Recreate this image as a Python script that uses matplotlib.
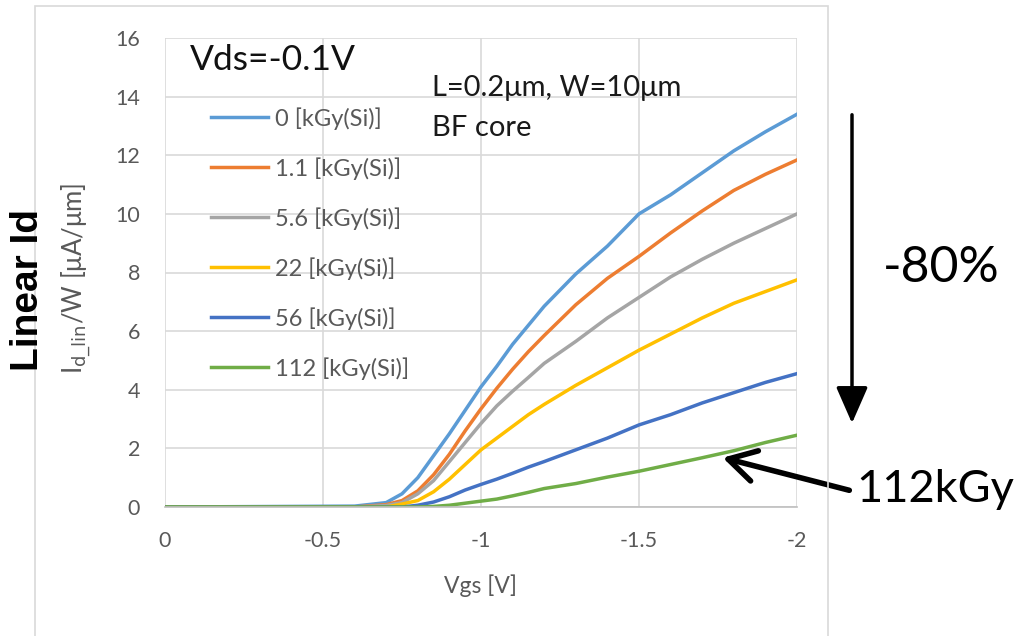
import matplotlib
matplotlib.use("Agg")
import matplotlib.pyplot as plt
from matplotlib.patches import Rectangle, FancyArrowPatch

plt.rcParams['font.family'] = ['Lato', 'DejaVu Sans']

vgs = [0, -0.6, -0.7, -0.75, -0.8, -0.85, -0.9, -0.95, -1.0, -1.05, -1.1,
       -1.15, -1.2, -1.3, -1.4, -1.5, -1.6, -1.7, -1.8, -1.9, -2.0]
id_0 = [0, 0.03, 0.15, 0.45, 1.0, 1.75, 2.5, 3.3, 4.1, 4.8, 5.55,
        6.2, 6.85, 7.95, 8.9, 10.0, 10.65, 11.4, 12.15, 12.8, 13.4]
id_1p1 = [0, 0, 0.08, 0.22, 0.55, 1.1, 1.8, 2.6, 3.35, 4.05, 4.7,
          5.3, 5.85, 6.9, 7.8, 8.55, 9.35, 10.1, 10.8, 11.35, 11.84]
id_5p6 = [0, 0, 0.05, 0.15, 0.45, 0.9, 1.55, 2.2, 2.85, 3.45, 3.95,
          4.42, 4.9, 5.65, 6.45, 7.15, 7.85, 8.45, 9.0, 9.5, 10.0]
id_22 = [0, 0, 0, 0.1, 0.22, 0.52, 0.95, 1.45, 1.95, 2.35, 2.75,
         3.15, 3.5, 4.15, 4.75, 5.35, 5.9, 6.45, 6.95, 7.35, 7.75]
id_56 = [0, 0, 0, 0, 0.06, 0.17, 0.35, 0.58, 0.77, 0.95, 1.15,
         1.36, 1.55, 1.95, 2.35, 2.8, 3.15, 3.55, 3.9, 4.25, 4.55]
id_112 = [0, 0, 0, 0, 0, 0.02, 0.06, 0.13, 0.2, 0.27, 0.38,
          0.5, 0.63, 0.8, 1.02, 1.22, 1.45, 1.68, 1.92, 2.2, 2.45]

series = [id_0, id_1p1, id_5p6, id_22, id_56, id_112]
labels = ["0 [kGy(Si)]", "1.1 [kGy(Si)]", "5.6 [kGy(Si)]", "22 [kGy(Si)]",
          "56 [kGy(Si)]", "112 [kGy(Si)]"]
colors = ["#5B9BD5", "#ED7D31", "#A5A5A5", "#FFC000", "#4472C4", "#70AD47"]

xticks = [0, -0.5, -1, -1.5, -2]
xticklabels = ["0", "-0.5", "-1", "-1.5", "-2"]
yticks = [0, 2, 4, 6, 8, 10, 12, 14, 16]

W, H = 1019, 636
fig = plt.figure(figsize=(W / 100, H / 100), dpi=100)


def fx(px):
    return px / W


def fy(py):
    return 1 - py / H


# outer chart frame
fig.patches.append(Rectangle((fx(35), fy(640)), fx(828) - fx(35), fy(6) - fy(640),
                             transform=fig.transFigure, fill=False,
                             edgecolor="#d9d9d9", lw=1.2))

ax = fig.add_axes([fx(165), fy(507), fx(797) - fx(165), fy(38) - fy(507)])
for y, c, lab in zip(series, colors, labels):
    ax.plot(vgs, y, color=c, lw=2.5, label=lab)

ax.set_xlim(0, -2)
ax.set_ylim(0, 16)
ax.set_xticks(xticks)
ax.set_xticklabels(xticklabels)
ax.set_yticks(yticks)
ax.grid(True, color="#d9d9d9", lw=1.2)
ax.set_axisbelow(True)
for s in ["top", "right", "left"]:
    ax.spines[s].set_visible(False)
ax.spines["bottom"].set_color("#bfbfbf")
ax.spines["bottom"].set_linewidth(1.2)
ax.tick_params(length=0, labelsize=15.5, labelcolor="#595959")
ax.tick_params(axis="x", pad=17)
ax.tick_params(axis="y", pad=18)

ax.set_xlabel("Vgs [V]", fontsize=16.5, color="#595959", labelpad=17)
fig.text(fx(76), fy(278), r"I$_{\mathrm{d\_lin}}$/W [μA/μm]", rotation=90,
         fontsize=18.5, color="#595959", ha="center", va="center")
fig.text(fx(28), fy(290), "Linear Id", rotation=90, fontsize=28,
         fontweight="bold", family="Liberation Sans", ha="center", va="center")

leg = ax.legend(loc="upper left", bbox_to_anchor=(fx(211), fy(107)),
                bbox_transform=fig.transFigure, frameon=False, fontsize=17,
                handlelength=2.4, handletextpad=0.3, labelspacing=1.16,
                borderpad=0, borderaxespad=0)
for t in leg.get_texts():
    t.set_color("#595959")

fig.text(fx(190), fy(60), "Vds=-0.1V", fontsize=25.5, color="#111111",
         ha="left", va="center")
fig.text(fx(432), fy(88), "L=0.2μm, W=10μm", fontsize=21, color="#1a1a1a",
         ha="left", va="center")
fig.text(fx(432), fy(128), "BF core", fontsize=21, color="#1a1a1a",
         ha="left", va="center")
fig.text(fx(883), fy(268), "-80%", fontsize=36, color="black",
         ha="left", va="center")
fig.text(fx(856), fy(490), "112kGy", fontsize=32.5, color="black",
         ha="left", va="center")

fig.add_artist(FancyArrowPatch(
    (fx(852), fy(112)), (fx(852), fy(426)), transform=fig.transFigure,
    arrowstyle="-|>,head_length=0.8,head_width=0.35", mutation_scale=28,
    lw=2.5, color="black"))
fig.add_artist(FancyArrowPatch(
    (fx(852), fy(491)), (fx(720), fy(457)), transform=fig.transFigure,
    arrowstyle="->,head_length=0.7,head_width=0.4", mutation_scale=28,
    lw=4, color="black"))

fig.savefig("out.png", dpi=100)
